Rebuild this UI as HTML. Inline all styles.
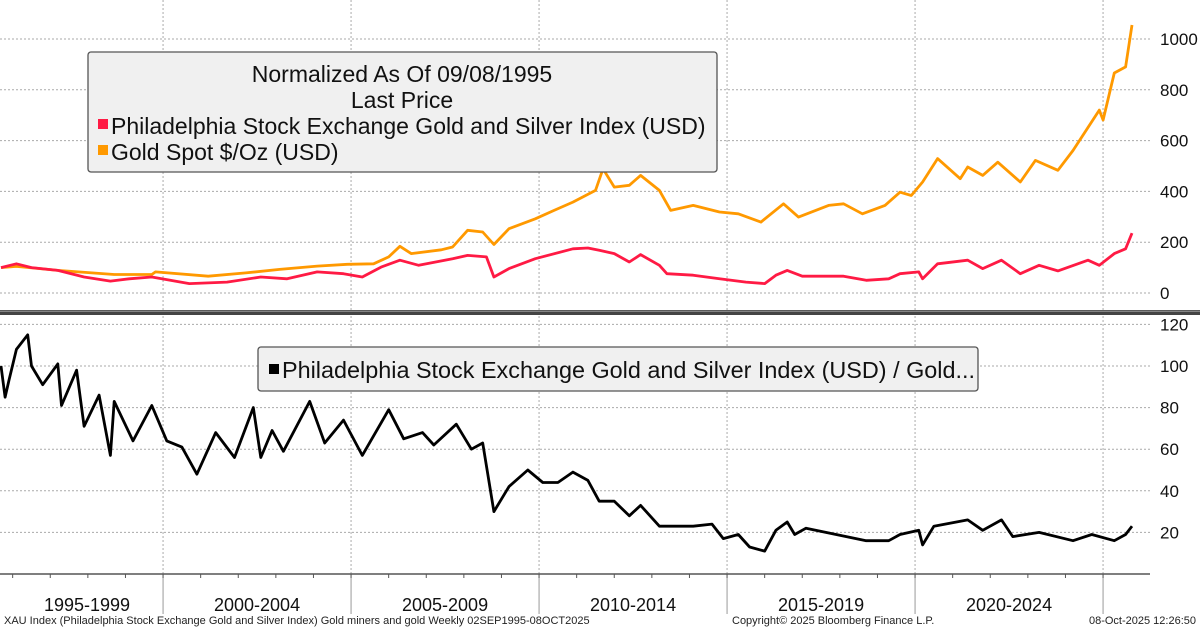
<!DOCTYPE html>
<html><head><meta charset="utf-8"><style>
html,body{margin:0;padding:0;background:#fff;}
svg{display:block;font-family:"Liberation Sans",Tahoma,sans-serif;}
</style></head><body>
<svg id="chart" width="1200" height="629" viewBox="0 0 1200 629">
<g id="grid"></g>
<g id="series"></g>
<rect x="0" y="310" width="1200" height="5" fill="#444"/>
<line x1="0" y1="311.2" x2="1200" y2="311.2" stroke="#999" stroke-width="1"/>
<g>
<rect x="88" y="52" width="629" height="120" rx="3" fill="#f0f0f0" stroke="#555" stroke-width="1.3"/>
<text x="402" y="82" font-size="23" text-anchor="middle" fill="#111">Normalized As Of 09/08/1995</text>
<text x="402" y="108" font-size="23" text-anchor="middle" fill="#111">Last Price</text>
<rect x="98" y="119" width="10" height="10" fill="#ff1a44"/>
<text x="111" y="134" font-size="23" fill="#111">Philadelphia Stock Exchange Gold and Silver Index (USD)</text>
<rect x="98" y="145" width="10" height="10" fill="#ff9900"/>
<text x="111" y="160" font-size="23" fill="#111">Gold Spot $/Oz (USD)</text>
</g>
<g>
<rect x="258" y="347" width="720" height="44" rx="3" fill="#f0f0f0" stroke="#555" stroke-width="1.3"/>
<rect x="269" y="364" width="10" height="10" fill="#000"/>
<text x="282" y="378" font-size="23.4" fill="#111">Philadelphia Stock Exchange Gold and Silver Index (USD) / Gold...</text>
</g>
<g id="axes"></g>
<text x="4" y="624" font-size="11" fill="#222">XAU Index (Philadelphia Stock Exchange Gold and Silver Index) Gold miners and gold Weekly 02SEP1995-08OCT2025</text>
<text x="732" y="624" font-size="11" fill="#222">Copyright© 2025 Bloomberg Finance L.P.</text>
<text x="1196" y="624" font-size="11" fill="#222" text-anchor="end">08-Oct-2025 12:26:50</text>
</svg>
<script>
const goldT=[1995.69,1996.1,1997.2,1998.7,1999.7,1999.8,2001.2,2002.2,2003.1,2004.1,2004.9,2005.6,2006.0,2006.3,2006.6,2007.4,2007.7,2008.1,2008.5,2008.8,2009.2,2009.9,2010.4,2010.9,2011.5,2011.7,2012.0,2012.4,2012.7,2013.2,2013.5,2014.1,2014.8,2015.3,2015.9,2016.5,2016.9,2017.7,2018.1,2018.6,2019.2,2019.6,2019.9,2020.2,2020.6,2021.2,2021.4,2021.8,2022.2,2022.8,2023.2,2023.8,2024.2,2024.9,2025.0,2025.3,2025.6,2025.77];
const goldV=[100,105,89,73,73,83,66,79,93,106,113,115,142,184,155,170,181,247,240,191,253,292,325,358,404,489,417,424,463,404,325,345,319,312,279,351,299,345,351,312,345,397,384,437,529,450,496,463,515,437,522,483,561,720,681,866,890,1055];
const xauT=[1995.69,1996.1,1996.5,1997.2,1997.9,1998.6,1999.1,1999.7,2000.7,2001.7,2002.6,2003.3,2004.1,2004.8,2005.3,2005.8,2006.3,2006.8,2007.7,2008.1,2008.6,2008.8,2009.2,2009.9,2010.9,2011.3,2011.6,2012.0,2012.4,2012.7,2013.2,2013.4,2014.1,2014.8,2015.5,2016.0,2016.3,2016.6,2017.0,2018.1,2018.7,2019.3,2019.6,2020.1,2020.2,2020.6,2021.4,2021.8,2022.3,2022.8,2023.3,2023.8,2024.6,2024.9,2025.3,2025.6,2025.77];
const xauV=[100,115,100,89,63,47,56,63,37,43,63,56,83,76,63,102,129,109,135,148,142,63,96,135,174,177,168,155,122,151,109,76,70,56,43,37,70,89,66,66,50,56,76,83,56,115,129,96,129,76,109,87,129,109,155,174,236];
const ratioT=[1995.69,1995.8,1995.9,1996.1,1996.4,1996.5,1996.8,1997.2,1997.3,1997.7,1997.9,1998.3,1998.6,1998.7,1999.2,1999.7,2000.1,2000.5,2000.9,2001.4,2001.9,2002.4,2002.6,2002.9,2003.2,2003.9,2004.3,2004.8,2005.3,2006.0,2006.4,2006.9,2007.2,2007.8,2008.2,2008.5,2008.8,2009.2,2009.7,2010.1,2010.5,2010.9,2011.3,2011.6,2012.0,2012.4,2012.7,2013.2,2013.6,2014.1,2014.6,2014.9,2015.3,2015.6,2016.0,2016.3,2016.6,2016.8,2017.1,2017.9,2018.7,2019.3,2019.6,2020.1,2020.2,2020.5,2021.4,2021.8,2022.3,2022.6,2023.3,2024.2,2024.7,2025.3,2025.6,2025.77];
const ratioV=[100,85,93,108,115,100,91,101,81,98,71,86,57,83,64,81,64,61,48,68,56,80,56,69,59,83,63,74,57,79,65,68,62,72,60,63,30,42,50,44,44,49,45,35,35,28,33,23,23,23,24,17,19,13,11,21,25,19,22,19,16,16,19,21,14,23,26,21,26,18,20,16,19,16,19,23];
const topTicks=[0,200,400,600,800,1000];
const bottomTicks=[20,40,60,80,100,120];
const periodLabels=["1995-1999","2000-2004","2005-2009","2010-2014","2015-2019","2020-2024"];
const periodStarts=[2000,2005,2010,2015,2020,2025];

const NS="http://www.w3.org/2000/svg";
const X0=1995.69, PXY=37.6;
function xS(t){return 1+(t-X0)*PXY;}
function yTop(v){return 293-v*0.254;}
function yBot(v){return 574-v*2.08;}
function mk(tag,attrs,parent){const e=document.createElementNS(NS,tag);for(const k in attrs)e.setAttribute(k,attrs[k]);parent.appendChild(e);return e;}
const grid=document.getElementById('grid'), axes=document.getElementById('axes'), ser=document.getElementById('series');
topTicks.forEach(v=>{
  const l=mk('line',{x1:0,x2:1150,y1:yTop(v),y2:yTop(v),stroke:'#aaa','stroke-dasharray':'2,2','stroke-width':1},grid);
  
  
  const t=mk('text',{x:1160,y:yTop(v)+6,'font-size':17,fill:'#111'},axes);
  t.textContent=v;
  
  
});
bottomTicks.forEach(v=>{
  const l=mk('line',{x1:0,x2:1150,y1:yBot(v),y2:yBot(v),stroke:'#aaa','stroke-dasharray':'2,2','stroke-width':1},grid);
  
  
  const t=mk('text',{x:1160,y:yBot(v)+6,'font-size':17,fill:'#111'},axes);
  t.textContent=v;
  
  
});
periodStarts.forEach(y=>{
  const x=xS(y);
  const l=mk('line',{x1:x,x2:x,y1:0,y2:574,stroke:'#aaa','stroke-dasharray':'2,2','stroke-width':1},grid);
  
  
  mk('line',{x1:x,x2:x,y1:574,y2:614,stroke:'#999','stroke-width':1},axes);
});
for(let y=1996;y<=2025;y++){mk('line',{x1:xS(y),x2:xS(y),y1:574,y2:578,stroke:'#555','stroke-width':1},axes);}
const ax=mk('line',{x1:0,x2:1150,y1:574,y2:574,stroke:'#555','stroke-width':1.5},axes);


periodLabels.forEach((s,i)=>{
  const a=i===0?X0:periodStarts[i-1], b=periodStarts[i];
  const t=mk('text',{x:(xS(a)+xS(b))/2+(i===0?5:0),y:611,'font-size':18,'text-anchor':'middle',fill:'#111'},axes);
  t.textContent=s;
  
  
});
function line(T,V,yf,color,w,name){
  const d=T.map((t,i)=>(i?'L':'M')+xS(t).toFixed(1)+','+yf(V[i]).toFixed(1)).join(' ');
  const p=mk('path',{d:d,fill:'none',stroke:color,'stroke-width':w,'stroke-linejoin':'round'},ser);
  
  
}
line(goldT,goldV,yTop,'#ff9900',2.8,'gold-line');
line(xauT,xauV,yTop,'#ff1a44',2.8,'xau-line');
line(ratioT,ratioV,yBot,'#000',2.8,'ratio-line');
</script>
</body></html>
